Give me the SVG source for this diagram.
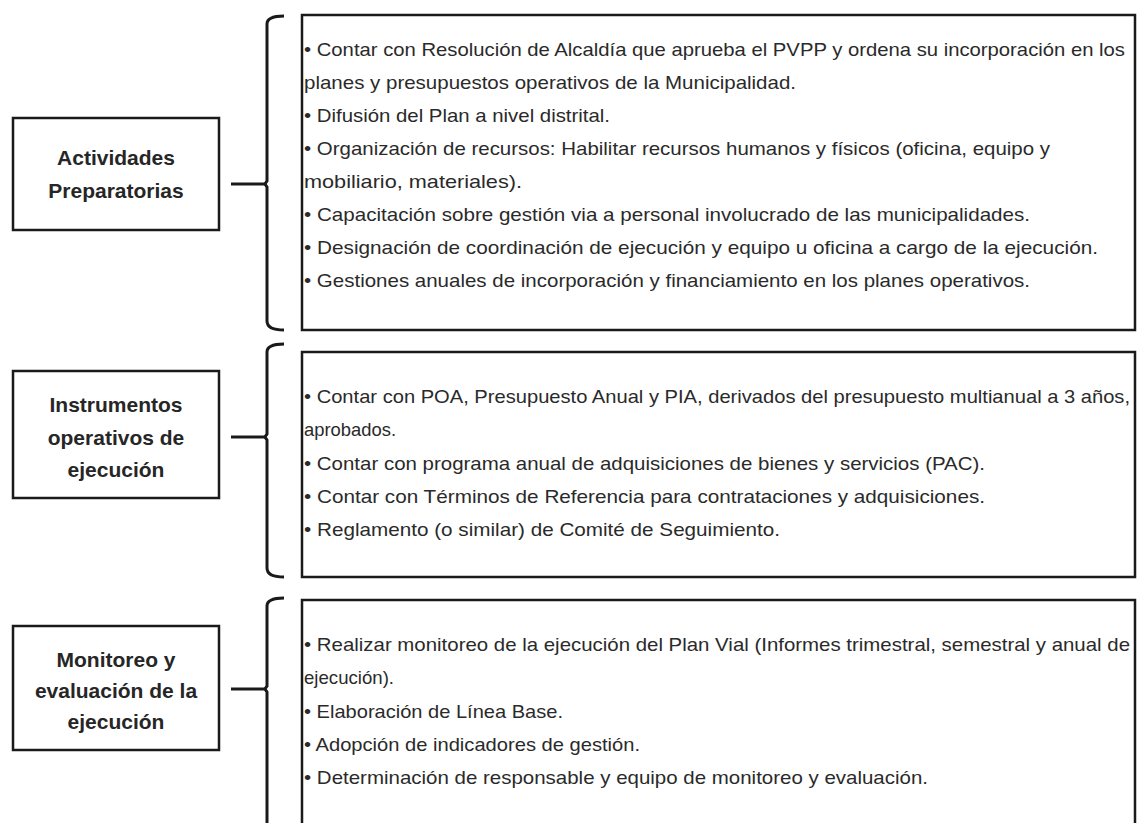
<svg xmlns="http://www.w3.org/2000/svg" width="1137" height="823" viewBox="0 0 1137 823">
<style>
.bg{fill:#ffffff}
.box{fill:#ffffff;stroke:#1a1a1a;stroke-width:2.5}
.lbl{font-family:"Liberation Sans",Arial,sans-serif;font-weight:bold;font-size:21px;fill:#262626;text-anchor:middle}
.t{font-family:"Liberation Sans Narrow","Liberation Sans",Arial,sans-serif;font-size:19px;fill:#2a2a2a}
.br{fill:none;stroke:#1a1a1a;stroke-width:3}
.cn{fill:none;stroke:#1a1a1a;stroke-width:3}
</style>
<rect class="bg" x="0" y="0" width="1137" height="823"/>

<g id="connectors">
  <line class="cn" x1="231" y1="184" x2="266" y2="184"/>
  <path class="br" d="M284,16 Q267,16 267,24 V181 L265,184 L267,187 V321 Q267,330 284,330"/>
  <line class="cn" x1="231" y1="437" x2="266" y2="437"/>
  <path class="br" d="M284,344 Q267,344 267,352 V434 L265,437 L267,440 V568 Q267,577 284,577"/>
  <line class="cn" x1="231" y1="689" x2="266" y2="689"/>
  <path class="br" d="M284,598 Q267,598 267,606 V686 L265,689 L267,692 V830"/>
</g>

<g id="n1">
  <rect class="box" x="13" y="118" width="206" height="112"/>
  <text class="lbl" x="116" y="165">Actividades</text>
  <text class="lbl" x="116" y="198">Preparatorias</text>
</g>
<g id="n1-detail">
  <rect class="box" x="302" y="15" width="833" height="315"/>
  <text class="t" x="304" y="56" textLength="821" lengthAdjust="spacingAndGlyphs">• Contar con Resolución de Alcaldía que aprueba el PVPP y ordena su incorporación en los</text>
  <text class="t" x="304" y="89" textLength="492" lengthAdjust="spacingAndGlyphs">planes y presupuestos operativos de la Municipalidad.</text>
  <text class="t" x="304" y="122" textLength="306" lengthAdjust="spacingAndGlyphs">• Difusión del Plan a nivel distrital.</text>
  <text class="t" x="304" y="155" textLength="746" lengthAdjust="spacingAndGlyphs">• Organización de recursos: Habilitar recursos humanos y físicos (oficina, equipo y</text>
  <text class="t" x="304" y="188" textLength="218" lengthAdjust="spacingAndGlyphs">mobiliario, materiales).</text>
  <text class="t" x="304" y="221" textLength="726" lengthAdjust="spacingAndGlyphs">• Capacitación sobre gestión via a personal involucrado de las municipalidades.</text>
  <text class="t" x="304" y="254" textLength="794" lengthAdjust="spacingAndGlyphs">• Designación de coordinación de ejecución y equipo u oficina a cargo de la ejecución.</text>
  <text class="t" x="304" y="287" textLength="726" lengthAdjust="spacingAndGlyphs">• Gestiones anuales de incorporación y financiamiento en los planes operativos.</text>
</g>

<g id="n2">
  <rect class="box" x="13" y="371" width="206" height="127"/>
  <text class="lbl" x="116" y="412">Instrumentos</text>
  <text class="lbl" x="116" y="445">operativos de</text>
  <text class="lbl" x="116" y="477">ejecución</text>
</g>
<g id="n2-detail">
  <rect class="box" x="302" y="352" width="833" height="225"/>
  <text class="t" x="304" y="403" textLength="826" lengthAdjust="spacingAndGlyphs">• Contar con POA, Presupuesto Anual y PIA, derivados del presupuesto multianual a 3 años,</text>
  <text class="t" x="304" y="436" textLength="92" lengthAdjust="spacingAndGlyphs">aprobados.</text>
  <text class="t" x="304" y="470" textLength="681" lengthAdjust="spacingAndGlyphs">• Contar con programa anual de adquisiciones de bienes y servicios (PAC).</text>
  <text class="t" x="304" y="503" textLength="681" lengthAdjust="spacingAndGlyphs">• Contar con Términos de Referencia para contrataciones y adquisiciones.</text>
  <text class="t" x="304" y="536" textLength="476" lengthAdjust="spacingAndGlyphs">• Reglamento (o similar) de Comité de Seguimiento.</text>
</g>

<g id="n3">
  <rect class="box" x="13" y="626" width="206" height="124"/>
  <text class="lbl" x="116" y="667">Monitoreo y</text>
  <text class="lbl" x="116" y="698">evaluación de la</text>
  <text class="lbl" x="116" y="729">ejecución</text>
</g>
<g id="n3-detail">
  <rect class="box" x="302" y="600" width="833" height="260"/>
  <text class="t" x="304" y="651" textLength="826" lengthAdjust="spacingAndGlyphs">• Realizar monitoreo de la ejecución del Plan Vial (Informes trimestral, semestral y anual de</text>
  <text class="t" x="304" y="684" textLength="90" lengthAdjust="spacingAndGlyphs">ejecución).</text>
  <text class="t" x="304" y="718" textLength="259" lengthAdjust="spacingAndGlyphs">• Elaboración de Línea Base.</text>
  <text class="t" x="304" y="751" textLength="336" lengthAdjust="spacingAndGlyphs">• Adopción de indicadores de gestión.</text>
  <text class="t" x="304" y="784" textLength="624" lengthAdjust="spacingAndGlyphs">• Determinación de responsable y equipo de monitoreo y evaluación.</text>
</g>
</svg>
